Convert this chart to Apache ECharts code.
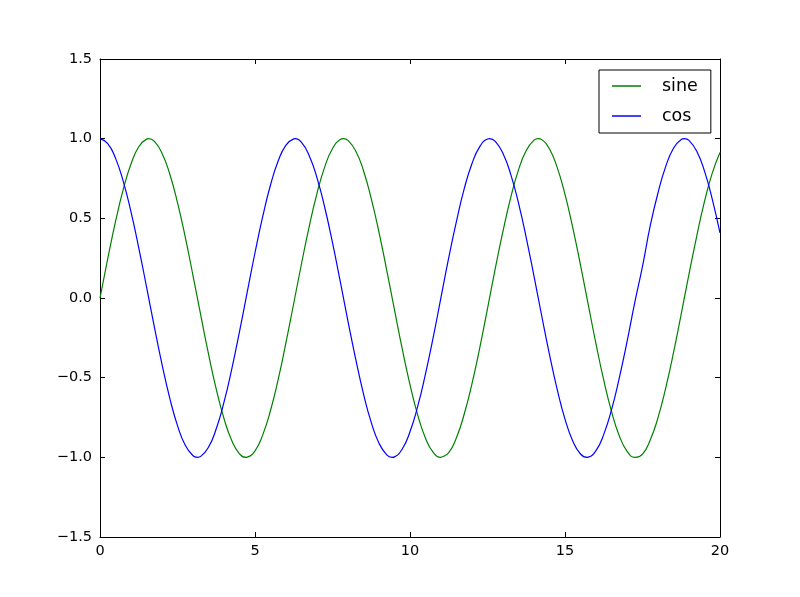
<!DOCTYPE html>
<html>
<head>
<meta charset="utf-8">
<script src="https://cdn.jsdelivr.net/npm/echarts@6/dist/echarts.min.js"></script>
<style>
html,body{margin:0;padding:0;background:#fff;}
#chart{width:800px;height:597px;}
</style>
</head>
<body>
<div id="chart"></div>
<script>
const xValues = [0,0.25,0.5,0.75,1,1.25,1.5,1.75,2,2.25,2.5,2.75,3,3.25,3.5,3.75,4,4.25,4.5,4.75,5,5.25,5.5,5.75,6,6.25,6.5,6.75,7,7.25,7.5,7.75,8,8.25,8.5,8.75,9,9.25,9.5,9.75,10,10.25,10.5,10.75,11,11.25,11.5,11.75,12,12.25,12.5,12.75,13,13.25,13.5,13.75,14,14.25,14.5,14.75,15,15.25,15.5,15.75,16,16.25,16.5,16.75,17,17.25,17.5,17.75,18,18.25,18.5,18.75,19,19.25,19.5,19.75,20];
const sineValues = [0,0.247,0.479,0.682,0.841,0.949,0.997,0.984,0.909,0.778,0.598,0.382,0.141,-0.108,-0.351,-0.572,-0.757,-0.895,-0.978,-0.999,-0.959,-0.859,-0.706,-0.509,-0.279,-0.033,0.215,0.450,0.657,0.823,0.938,0.995,0.989,0.923,0.799,0.624,0.412,0.174,-0.075,-0.320,-0.544,-0.735,-0.880,-0.969,-1.000,-0.970,-0.876,-0.728,-0.537,-0.313,-0.066,0.185,0.420,0.631,0.804,0.926,0.991,0.994,0.935,0.818,0.650,0.442,0.206,-0.042,-0.288,-0.516,-0.712,-0.864,-0.961,-1.000,-0.980,-0.891,-0.751,-0.564,-0.343,-0.099,0.150,0.389,0.606,0.784,0.913];
const cosValues = [1,0.969,0.878,0.732,0.540,0.315,0.071,-0.178,-0.416,-0.628,-0.801,-0.924,-0.990,-0.994,-0.937,-0.821,-0.654,-0.446,-0.211,0.038,0.284,0.512,0.709,0.861,0.960,0.999,0.977,0.893,0.754,0.568,0.347,0.104,-0.146,-0.385,-0.602,-0.781,-0.911,-0.985,-0.997,-0.948,-0.839,-0.679,-0.476,-0.246,0.004,0.253,0.483,0.686,0.844,0.950,0.998,0.983,0.907,0.776,0.595,0.378,0.137,-0.113,-0.355,-0.575,-0.760,-0.897,-0.979,-0.999,-0.958,-0.856,-0.702,-0.503,-0.275,-0.029,0.198,0.454,0.660,0.826,0.940,0.995,0.989,0.921,0.796,0.621,0.408];
// peaks and troughs
const sinePeakX = [1.571, 4.712, 7.854, 10.996, 14.137, 17.279];
const sinePeakY = [1, -1, 1, -1, 1, -1];
const cosPeakX = [3.142, 6.283, 9.425, 12.566, 15.708, 18.850];
const cosPeakY = [-1, 1, -1, 1, -1, 1];
const seriesNames = ['sine', 'cos'];

const font = 'DejaVu Sans';
const fmtY = v => (v < 0 ? '\u2212' : '') + Math.abs(v).toFixed(1);
const fmtX = v => (v < 0 ? '\u2212' : '') + Math.abs(v);

function buildData(ys, px, py) {
  const pts = xValues.map((x, i) => [x, ys[i]]);
  px.forEach((x, i) => pts.push([x, py[i]]));
  pts.sort((a, b) => a[0] - b[0]);
  return pts;
}

const baseAxisLine = {show: true, onZero: false, lineStyle: {color: '#000', width: 1}};
const baseTick = {show: true, inside: true, length: 5, lineStyle: {color: '#000', width: 1}};

const chart = echarts.init(document.getElementById('chart'), null, {renderer: 'canvas'});
chart.setOption({
  animation: false,
  backgroundColor: '#fff',
  grid: {left: 100, right: 80, top: 59, bottom: 60, containLabel: false},
  xAxis: [
    {type: 'value', min: 0, max: 20, interval: 5, position: 'bottom',
     axisLine: baseAxisLine, axisTick: baseTick, splitLine: {show: false},
     axisLabel: {color: '#000', fontFamily: font, fontSize: 14.5, margin: 7, formatter: fmtX}},
    {type: 'value', min: 0, max: 20, interval: 5, position: 'top',
     axisLine: baseAxisLine, axisTick: baseTick, splitLine: {show: false},
     axisLabel: {show: false}}
  ],
  yAxis: [
    {type: 'value', min: -1.5, max: 1.5, interval: 0.5, position: 'left',
     axisLine: baseAxisLine, axisTick: baseTick, splitLine: {show: false},
     axisLabel: {color: '#000', fontFamily: font, fontSize: 14.5, margin: 8, formatter: fmtY}},
    {type: 'value', min: -1.5, max: 1.5, interval: 0.5, position: 'right',
     axisLine: baseAxisLine, axisTick: baseTick, splitLine: {show: false},
     axisLabel: {show: false}}
  ],
  legend: {
    left: 599, top: 70, orient: 'vertical',
    backgroundColor: '#fff', borderColor: '#000', borderWidth: 1, borderRadius: 0,
    padding: [6, 13, 7, 13], itemGap: 10,
    icon: 'rect', itemWidth: 29, itemHeight: 1.5,
    textStyle: {color: '#000', fontFamily: font, fontSize: 17.5, lineHeight: 20, padding: [0, 0, 0, 16]},
    data: seriesNames
  },
  series: [
    {name: seriesNames[0], type: 'line', data: buildData(sineValues, sinePeakX, sinePeakY),
     showSymbol: false, symbol: 'none', smooth: 0.5, color: '#008000',
     lineStyle: {color: '#008000', width: 1.2}, z: 2},
    {name: seriesNames[1], type: 'line', data: buildData(cosValues, cosPeakX, cosPeakY),
     showSymbol: false, symbol: 'none', smooth: 0.5, color: '#0000ff',
     lineStyle: {color: '#0000ff', width: 1.2}, z: 3}
  ]
});
</script>
</body>
</html>
